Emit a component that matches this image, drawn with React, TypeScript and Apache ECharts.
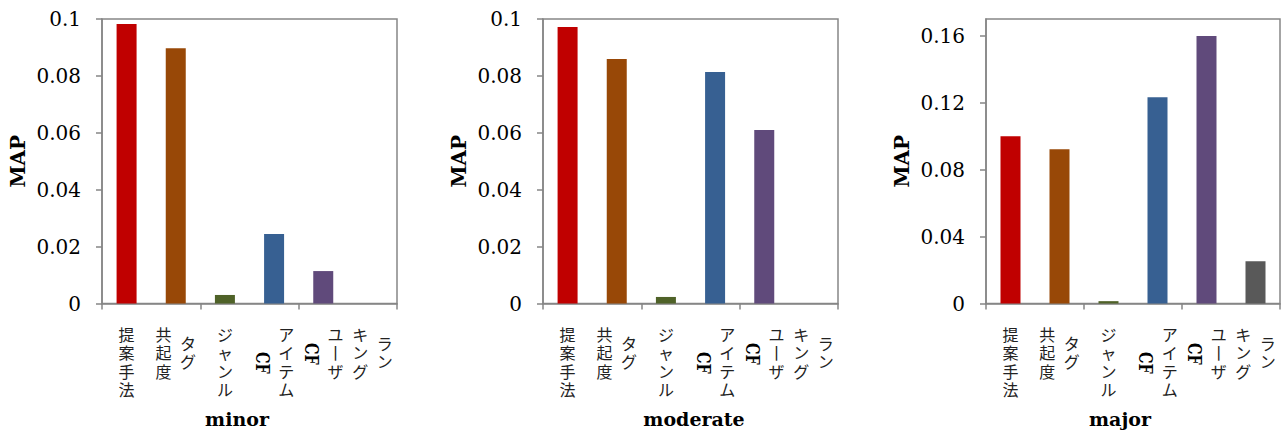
import React, { useEffect, useRef } from "react";
import * as echarts from "echarts";

// ---- data ----
const categories = ["提案手法", "タグ共起度", "ジャンル", "アイテムCF", "ユーザCF", "ランキング"];
// vertical-writing columns of each category label, listed right to left
const labelColumns = [["提案手法"], ["タグ", "共起度"], ["ジャンル"], ["アイテム", "CF"], ["ユーザ", "CF"], ["ラン", "キング"]];
const barColors = ["#C00000", "#984807", "#4F6228", "#376092", "#604A7B", "#595959"];
const panelTitles = ["minor", "moderate", "major"];
const minorValues = [0.0982, 0.0897, 0.003, 0.0244, 0.0114, 0];
const moderateValues = [0.0972, 0.0859, 0.0023, 0.0814, 0.061, 0];
const majorValues = [0.1, 0.0922, 0.0014, 0.1233, 0.1598, 0.0253];
const yTicksSmall = [0, 0.02, 0.04, 0.06, 0.08, 0.1];
const yTicksLarge = [0, 0.04, 0.08, 0.12, 0.16];
const yMaxes = [0.1, 0.1, 0.17];
const yIntervals = [0.02, 0.02, 0.04];
const yAxisTitle = "MAP";

// ---- layout ----
const panelValues = [minorValues, moderateValues, majorValues];
const panelTicks = [yTicksSmall, yTicksSmall, yTicksLarge];
const gridLefts = [102, 543, 986];
const gridWidths = [295, 295, 294];
const gridTop = 19;
const gridHeight = 284.5;
const titleCenters = [237, 694, 1120];
const AXIS_GRAY = "#868686";
const SERIF = "'DejaVu Serif', 'Liberation Serif', serif";
const CJK = "'Liberation Sans', 'Noto Sans CJK JP', sans-serif";

function fmt(v: number): string {
  return String(parseFloat(v.toFixed(3)));
}

export default function App() {
  const ref = useRef<HTMLDivElement>(null);
  useEffect(() => {
    document.body.style.margin = "0";
    if (!ref.current) return;
    const chart = echarts.init(ref.current, null, { renderer: "svg" });
    const grids = gridLefts.map((l, i) => ({
      left: l,
      top: gridTop,
      width: gridWidths[i],
      height: gridHeight,
      show: true,
      borderColor: AXIS_GRAY,
      borderWidth: 1.5,
      backgroundColor: "transparent",
      containLabel: false,
    }));
    const xAxes = gridLefts.map((_, i) => ({
      type: "category",
      gridIndex: i,
      data: categories,
      axisLine: { show: true, lineStyle: { color: AXIS_GRAY, width: 1.5 } },
      axisTick: { show: true, length: 6, alignWithLabel: false, lineStyle: { color: AXIS_GRAY, width: 1.5 } },
      axisLabel: { show: false },
      splitLine: { show: false },
    }));
    const yAxes = gridLefts.map((_, i) => ({
      type: "value",
      gridIndex: i,
      min: 0,
      max: yMaxes[i],
      interval: yIntervals[i],
      name: yAxisTitle,
      nameLocation: "middle",
      nameRotate: 90,
      nameGap: 74,
      nameTextStyle: { fontFamily: SERIF, fontWeight: "bold", fontSize: 20, color: "#000" },
      axisLine: { show: true, lineStyle: { color: AXIS_GRAY, width: 1.5 } },
      axisTick: { show: true, length: 6, inside: false, customValues: panelTicks[i], lineStyle: { color: AXIS_GRAY, width: 1.5 } },
      axisLabel: {
        customValues: panelTicks[i],
        margin: 21,
        fontFamily: SERIF,
        fontSize: 20,
        color: "#000",
        formatter: (v: number) => fmt(v),
      },
      splitLine: { show: false },
    }));
    const series = panelValues.map((vals, i) => ({
      type: "bar",
      xAxisIndex: i,
      yAxisIndex: i,
      barWidth: 20,
      data: vals.map((v, k) => ({ value: v, itemStyle: { color: barColors[k] } })),
    }));
    chart.setOption({
      animation: false,
      grid: grids,
      xAxis: xAxes,
      yAxis: yAxes,
      series,
    });

    // category labels in vertical writing, placed from the axis scales
    const graphic: any[] = [];
    const charPitch = 18.2;
    const isLatin = (s: string) => /^[A-Za-z]+$/.test(s);
    for (let p = 0; p < 3; p++) {
      const baseY = chart.convertToPixel({ yAxisIndex: p } as any, 0) as number;
      const topY = baseY + 23;
      for (let c = 0; c < categories.length; c++) {
        const cx = chart.convertToPixel({ xAxisIndex: p } as any, categories[c]) as number;
        const cols = labelColumns[c];
        const n = cols.length;
        const blockLen = Math.max(...cols.map((s) => (isLatin(s) ? 1 : s.length)));
        cols.forEach((col, k) => {
          const x = cx + ((n - 1) / 2 - k) * 24.5;
          if (isLatin(col)) {
            const yc = topY + (blockLen * charPitch) / 2;
            graphic.push({
              type: "text",
              x,
              y: yc,
              rotation: -Math.PI / 2,
              scaleX: 0.8,
              silent: true,
              style: {
                text: col,
                font: `bold 18px ${SERIF}`,
                fill: "#000",
                align: "center",
                verticalAlign: "middle",
                textAlign: "center",
                textVerticalAlign: "middle",
              },
            });
          } else {
            const chars = col.replace(/ー/g, "丨").split("");
            const y0 = topY + ((blockLen - chars.length) * charPitch) / 2;
            graphic.push({
              type: "text",
              x,
              y: y0,
              silent: true,
              style: {
                text: chars.join("\n"),
                font: `16px ${CJK}`,
                lineHeight: charPitch,
                fill: "#222",
                align: "center",
                verticalAlign: "top",
                textAlign: "center",
                textVerticalAlign: "top",
              },
            });
          }
        });
      }
      graphic.push({
        type: "text",
        x: titleCenters[p],
        y: 419,
        silent: true,
        style: {
          text: panelTitles[p],
          font: `bold 19px ${SERIF}`,
          fill: "#000",
          align: "center",
          verticalAlign: "middle",
          textAlign: "center",
          textVerticalAlign: "middle",
        },
      });
    }
    chart.setOption({ graphic });
    return () => chart.dispose();
  }, []);
  return <div ref={ref} style={{ width: 1284, height: 430 }} />;
}
